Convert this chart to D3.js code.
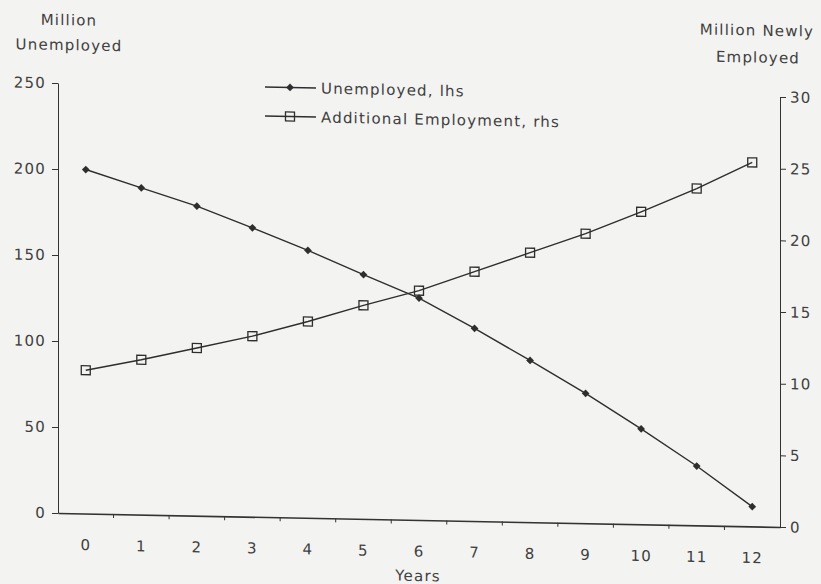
<!DOCTYPE html>
<html>
<head>
    <meta charset="utf-8">
    <script src="https://cdn.jsdelivr.net/npm/d3@7"></script>
    <style>
        body { margin: 0; background: #f3f3f1; }
        svg text {
            font-family: "DejaVu Sans", sans-serif;
            font-size: 15px;
            letter-spacing: 1.2px;
            fill: #404040;
        }
        .domain, .tick line { stroke: #333; }
    </style>
</head>
<body>
    <div id="chart"></div>
    <script>
        // Years on the x axis
        const years = [0, 1, 2, 3, 4, 5, 6, 7, 8, 9, 10, 11, 12];
        // Million unemployed (left axis)
        const unemployed = [200, 190, 180, 168, 155.5, 142, 129, 112, 94, 75.5, 55.5, 34.5, 11.5];
        // Million newly employed (right axis)
        const additionalEmployment = [10, 10.8, 11.7, 12.6, 13.7, 14.9, 16, 17.4, 18.8, 20.2, 21.8, 23.5, 25.4];
        const leftTicks = [0, 50, 100, 150, 200, 250];
        const rightTicks = [0, 5, 10, 15, 20, 25, 30];

        const width = 821;
        const height = 584;
        const margin = {top: 83, right: 41, bottom: 71, left: 58};

        const svg = d3.select("#chart")
            .append("svg")
            .attr("width", width)
            .attr("height", height);

        // the scanned page is slightly sheared, so the whole chart is too
        const g = svg.append("g")
            .attr("transform", "translate(0,-1.13) skewY(1.11)");

        const x = d3.scaleBand()
            .domain(years)
            .range([margin.left, width - margin.right])
            .paddingInner(0)
            .paddingOuter(0);

        const yLeft = d3.scaleLinear()
            .domain([0, 250])
            .range([height - margin.bottom, margin.top]);

        const yRight = d3.scaleLinear()
            .domain([0, 30])
            .range([height - margin.bottom, margin.top]);

        const cx = d => x(d) + x.bandwidth() / 2;

        // left axis
        g.append("g")
            .attr("transform", `translate(${margin.left},0)`)
            .call(d3.axisLeft(yLeft).tickValues(leftTicks).tickSize(6).tickPadding(6).tickSizeOuter(0));

        // right axis
        g.append("g")
            .attr("transform", `translate(${width - margin.right},0)`)
            .call(d3.axisRight(yRight).tickValues(rightTicks).tickSize(6).tickPadding(4).tickSizeOuter(0));

        // bottom axis: labels centred in each category, ticks between them
        const xAxis = g.append("g")
            .attr("transform", `translate(0,${height - margin.bottom})`)
            .call(d3.axisBottom(x).tickSize(0).tickPadding(26).tickSizeOuter(0));
        xAxis.selectAll(".boundary")
            .data(years.slice(1))
            .join("line")
            .attr("class", "boundary")
            .attr("x1", d => x(d))
            .attr("x2", d => x(d))
            .attr("y1", 0)
            .attr("y2", 4)
            .attr("stroke", "#333");
        xAxis.select(".domain").attr("stroke-width", 1.6);

        g.selectAll(".domain").attr("stroke", "#333");
        g.selectAll("text").attr("font-family", null).attr("font-size", null).attr("fill", null);

        // axis titles
        g.append("text").attr("x", 69).attr("y", 25).attr("text-anchor", "middle").text("Million");
        g.append("text").attr("x", 69).attr("y", 50).attr("text-anchor", "middle").text("Unemployed");
        g.append("text").attr("x", 757).attr("y", 22).attr("text-anchor", "middle").text("Million Newly");
        g.append("text").attr("x", 758).attr("y", 49).attr("text-anchor", "middle").text("Employed");
        g.append("text").attr("x", 418).attr("y", 574).attr("text-anchor", "middle").text("Years");

        // compact diamond: a square turned 45 degrees
        const diamond = d3.symbol().type(d3.symbolSquare).size(30);

        // Unemployed line
        g.append("path")
            .datum(unemployed)
            .attr("fill", "none")
            .attr("stroke", "#2e2e2e")
            .attr("stroke-width", 1.4)
            .attr("d", d3.line().x((d, i) => cx(years[i])).y(d => yLeft(d)));

        g.selectAll(".diamond")
            .data(unemployed)
            .join("path")
            .attr("class", "diamond")
            .attr("transform", (d, i) => `translate(${cx(years[i])},${yLeft(d)}) rotate(45)`)
            .attr("d", diamond)
            .attr("fill", "#2e2e2e");

        // Additional employment line
        g.append("path")
            .datum(additionalEmployment)
            .attr("fill", "none")
            .attr("stroke", "#2e2e2e")
            .attr("stroke-width", 1.4)
            .attr("d", d3.line().x((d, i) => cx(years[i])).y(d => yRight(d)));

        g.selectAll(".square")
            .data(additionalEmployment)
            .join("rect")
            .attr("class", "square")
            .attr("x", (d, i) => cx(years[i]) - 4.5)
            .attr("y", d => yRight(d) - 4.5)
            .attr("width", 9)
            .attr("height", 9)
            .attr("fill", "none")
            .attr("stroke", "#2e2e2e")
            .attr("stroke-width", 1.3);

        // legend
        const legend = g.append("g");
        const rows = [
            {label: "Unemployed, lhs", y: 83, marker: "diamond"},
            {label: "Additional Employment, rhs", y: 112, marker: "square"}
        ];
        rows.forEach(r => {
            legend.append("line")
                .attr("x1", 265).attr("x2", 316)
                .attr("y1", r.y).attr("y2", r.y)
                .attr("stroke", "#2e2e2e").attr("stroke-width", 1.4);
            if (r.marker === "diamond") {
                legend.append("path")
                    .attr("transform", `translate(290,${r.y}) rotate(45)`)
                    .attr("d", diamond)
                    .attr("fill", "#2e2e2e");
            } else {
                legend.append("rect")
                    .attr("x", 285.5).attr("y", r.y - 4.5)
                    .attr("width", 9).attr("height", 9)
                    .attr("fill", "none")
                    .attr("stroke", "#2e2e2e").attr("stroke-width", 1.3);
            }
            legend.append("text")
                .attr("x", 321)
                .attr("y", r.y + 5.5)
                .text(r.label);
        });
    </script>
</body>
</html>
